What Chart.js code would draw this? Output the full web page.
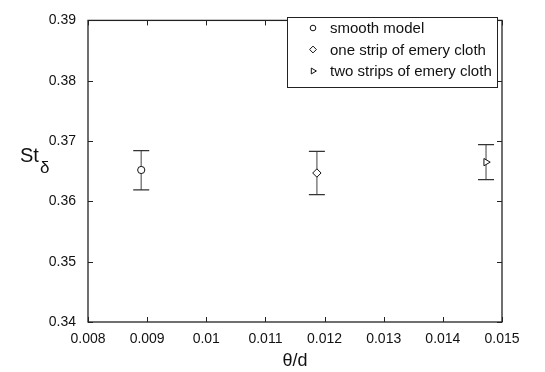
<!DOCTYPE html>
<html>
<head>
<meta charset="utf-8">
<script src="https://cdn.jsdelivr.net/npm/chart.js@4/dist/chart.umd.min.js"></script>
<style>
  html, body { margin: 0; padding: 0; background: #fff; }
  #wrap { width: 545px; height: 372px; }
</style>
</head>
<body>
<div id="wrap"><canvas id="c" width="545" height="372"></canvas></div>
<script>
// Strouhal number against momentum thickness ratio
const seriesLabels = ['smooth model', 'one strip of emery cloth', 'two strips of emery cloth'];
const thetaOverD = [0.0089, 0.01187, 0.01473];
const stDelta = [0.3652, 0.3647, 0.3665];
const stLow = [0.3619, 0.3611, 0.3636];
const stHigh = [0.3684, 0.3683, 0.3694];
const markerStyles = ['circle', 'rectRot', 'triangle'];
const markerRotations = [0, 0, 90];

const xTickValues = [0.008, 0.009, 0.010, 0.011, 0.012, 0.013, 0.014, 0.015];
const xTickLabels = ['0.008', '0.009', '0.01', '0.011', '0.012', '0.013', '0.014', '0.015'];
const yTickValues = [0.34, 0.35, 0.36, 0.37, 0.38, 0.39];
const yTickLabels = ['0.34', '0.35', '0.36', '0.37', '0.38', '0.39'];

const FONT = '"Liberation Sans", Arial, Helvetica, sans-serif';

const datasets = seriesLabels.map((label, i) => ({
  label,
  data: [{ x: thetaOverD[i], y: stDelta[i] }],
  pointStyle: markerStyles[i],
  rotation: markerRotations[i],
  pointRadius: markerStyles[i] === 'circle' ? 3.6 : 4.2,
  pointBackgroundColor: '#fff',
  pointBorderColor: '#111',
  pointBorderWidth: 1,
  showLine: false,
  errLow: stLow[i],
  errHigh: stHigh[i]
}));

// error bars sit beneath the markers
const errorBars = {
  id: 'errorBars',
  beforeDatasetsDraw(chart) {
    const { ctx, scales: { x, y } } = chart;
    ctx.save();
    chart.data.datasets.forEach(ds => {
      const px = x.getPixelForValue(ds.data[0].x);
      const yl = y.getPixelForValue(ds.errLow);
      const yh = y.getPixelForValue(ds.errHigh);
      ctx.strokeStyle = '#808080';
      ctx.lineWidth = 1.5;
      ctx.beginPath();
      ctx.moveTo(px, yl);
      ctx.lineTo(px, yh);
      ctx.stroke();
      ctx.strokeStyle = '#333';
      ctx.lineWidth = 1.2;
      ctx.beginPath();
      ctx.moveTo(px - 8, yl); ctx.lineTo(px + 8, yl);
      ctx.moveTo(px - 8, yh); ctx.lineTo(px + 8, yh);
      ctx.stroke();
    });
    ctx.restore();
  }
};

// boxed axes with inward ticks, y title with subscript, inset legend
const frame = {
  id: 'frame',
  afterDraw(chart) {
    const { ctx, chartArea: a, scales: { x, y } } = chart;
    ctx.save();
    ctx.strokeStyle = '#222';
    ctx.lineWidth = 1.3;
    ctx.strokeRect(a.left, a.top, a.right - a.left, a.bottom - a.top);
    ctx.lineWidth = 1;
    ctx.beginPath();
    xTickValues.forEach(v => {
      const px = Math.round(x.getPixelForValue(v)) + 0.5;
      ctx.moveTo(px, a.bottom); ctx.lineTo(px, a.bottom - 5);
      ctx.moveTo(px, a.top); ctx.lineTo(px, a.top + 5);
    });
    yTickValues.forEach(v => {
      const py = Math.round(y.getPixelForValue(v)) + 0.5;
      ctx.moveTo(a.left, py); ctx.lineTo(a.left + 5, py);
      ctx.moveTo(a.right, py); ctx.lineTo(a.right - 5, py);
    });
    ctx.stroke();

    // y axis title: St with subscript delta
    ctx.fillStyle = '#111';
    ctx.textBaseline = 'alphabetic';
    ctx.textAlign = 'left';
    ctx.font = '20px ' + FONT;
    ctx.fillText('St', 20, 162);
    const w = ctx.measureText('St').width;
    ctx.font = '17px ' + FONT;
    ctx.fillText('δ', 20 + w + 1, 173);

    // legend
    const lx = 287, ly = 17, lw = 210, lh = 70;
    ctx.fillStyle = '#fff';
    ctx.fillRect(lx, ly, lw, lh);
    ctx.strokeStyle = '#222';
    ctx.lineWidth = 1;
    ctx.strokeRect(lx + 0.5, ly + 0.5, lw, lh);
    ctx.font = '15px ' + FONT;
    ctx.textBaseline = 'middle';
    chart.data.datasets.forEach((ds, i) => {
      const cy = ly + 11 + i * 21.5;
      ctx.fillStyle = '#fff';
      ctx.strokeStyle = '#111';
      ctx.lineWidth = 1;
      Chart.helpers.drawPoint(ctx, {
        pointStyle: ds.pointStyle,
        rotation: ds.rotation,
        radius: ds.pointStyle === 'circle' ? 2.8 : 3.4,
        borderWidth: 1
      }, lx + 26, cy);
      ctx.fillStyle = '#111';
      ctx.fillText(ds.label, lx + 43, cy + 1);
    });
    ctx.restore();
  }
};

new Chart(document.getElementById('c'), {
  type: 'scatter',
  data: { datasets },
  plugins: [errorBars, frame],
  options: {
    responsive: false,
    animation: false,
    devicePixelRatio: 1,
    layout: { padding: { top: 16, right: 43, left: 0, bottom: 0 } },
    plugins: { legend: { display: false }, tooltip: { enabled: false } },
    scales: {
      x: {
        type: 'linear',
        min: 0.008,
        max: 0.015,
        afterBuildTicks(s) { s.ticks = xTickValues.map(v => ({ value: v })); },
        afterFit(s) { s.height = 50; },
        grid: { display: false, drawTicks: false },
        border: { display: false },
        ticks: {
          padding: 9,
          maxRotation: 0,
          autoSkip: false,
          color: '#111',
          font: { family: FONT, size: 14 },
          callback: (v, i) => xTickLabels[i]
        },
        title: {
          display: true,
          text: 'θ/d',
          color: '#111',
          font: { family: FONT, size: 18 },
          padding: { top: -6, bottom: 0 }
        }
      },
      y: {
        type: 'linear',
        min: 0.34,
        max: 0.39,
        afterBuildTicks(s) { s.ticks = yTickValues.map(v => ({ value: v })); },
        afterFit(s) { s.width = 88; },
        grid: { display: false, drawTicks: false },
        border: { display: false },
        ticks: {
          padding: 12,
          autoSkip: false,
          color: '#111',
          font: { family: FONT, size: 14 },
          callback: (v, i) => yTickLabels[i]
        }
      }
    }
  }
});
</script>
</body>
</html>
